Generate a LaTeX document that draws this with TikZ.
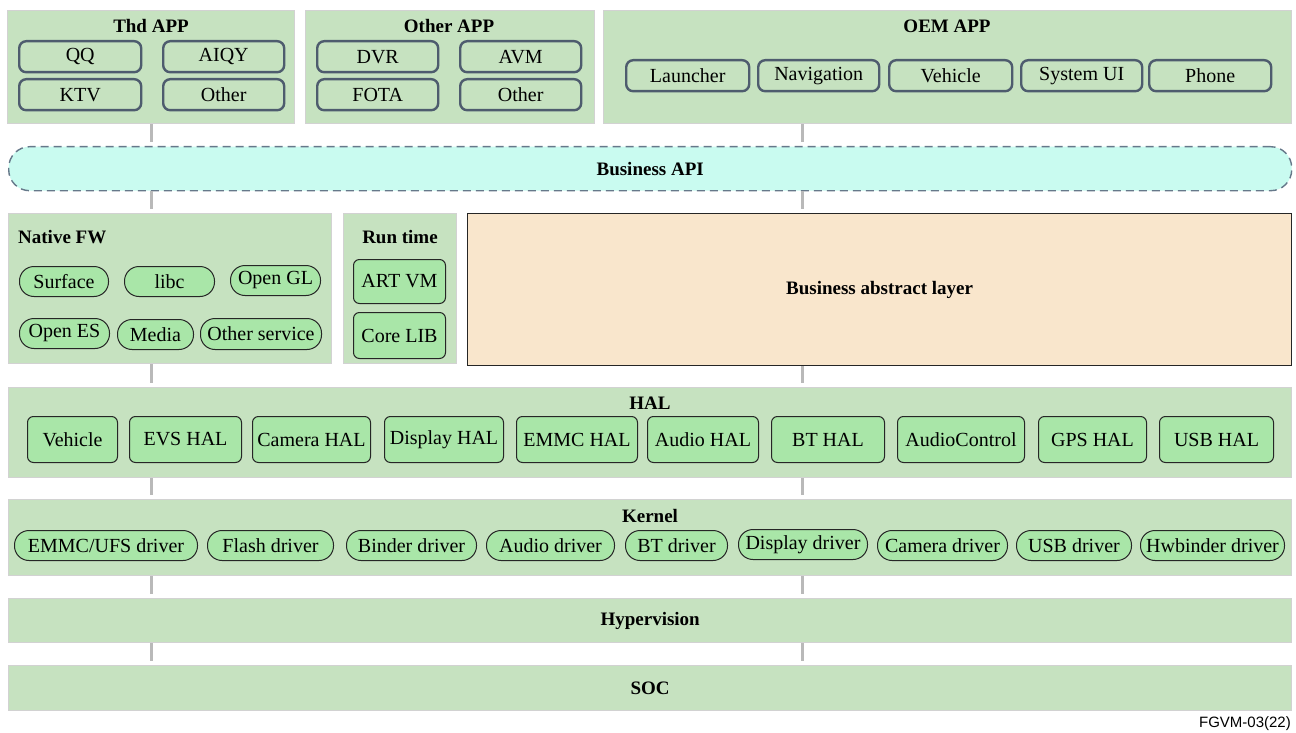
\documentclass[tikz,border=0pt]{standalone}
\usepackage{fontspec}
\setmainfont{Liberation Serif}
\newfontfamily\lsans{Liberation Sans}
\definecolor{layfill}{HTML}{C6E2C0}
\definecolor{laybd}{HTML}{D2D2D2}
\definecolor{boxfill}{HTML}{A9E6A8}
\definecolor{appbd}{HTML}{4E5C6E}
\definecolor{apifill}{HTML}{C9FBF0}
\definecolor{apibd}{HTML}{66788A}
\definecolor{peach}{HTML}{F9E6CC}
\definecolor{linkc}{HTML}{B9B9B9}
\newcommand\fsn{\fontsize{20pt}{22pt}\selectfont}
\newcommand\fsb{\fontsize{19pt}{21pt}\selectfont\bfseries}
\newcommand\Bx[7]{\pgfmathsetmacro\bw{#5-#3}\pgfmathsetmacro\bh{#6-#4}%
  \node[#1,minimum width=\bw pt,minimum height=\bh pt,anchor=north west] (#2) at (#3,#4) {#7};}
\tikzset{
  x=1pt,y=-1pt,
  layer/.style={draw=laybd,fill=layfill,line width=1.3pt,inner sep=0pt,font=\fsb},
  appbox/.style={draw=appbd,fill=layfill,line width=2.4pt,rounded corners=7pt,inner sep=0pt,font=\fsn},
  hbox/.style={draw=black!85,fill=boxfill,line width=1pt,rounded corners=6pt,inner sep=0pt,font=\fsn},
  pill/.style={draw=black!85,fill=boxfill,line width=1pt,rounded corners=14.5pt,inner sep=0pt,font=\fsn},
  apibox/.style={draw=apibd,fill=apifill,line width=1.4pt,dash pattern=on 8pt off 5pt,rounded corners=21pt,inner sep=0pt,font=\fsb},
  absbox/.style={draw=black!85,fill=peach,line width=1.2pt,inner sep=0pt,font=\fsb},
  ttl/.style={font=\fsb,inner sep=0pt},
  link/.style={draw=linkc,line width=3pt,shorten >=4pt},
}
\begin{document}
\begin{tikzpicture}
\useasboundingbox[fill=white] (0,0) rectangle (1296,733);
% top application layers
\Bx{layer}{thd}{7}{10}{294}{123}{}
\Bx{layer}{oth}{305}{10}{594}{123}{}
\Bx{layer}{oem}{603}{10}{1291}{123}{}
\node[ttl] (thdt) at (151,26) {Thd APP};
\node[ttl] (otht) at (449,26) {Other APP};
\node[ttl] (oemt) at (947,26) {OEM APP};
\Bx{appbox}{qq}{18}{40}{140}{71}{QQ}
\Bx{appbox}{aiqy}{162}{40}{283}{71}{AIQY}
\Bx{appbox}{ktv}{18}{78}{140}{109}{KTV}
\Bx{appbox}{tother}{162}{78}{283}{109}{Other}
\Bx{appbox}{dvr}{316}{40}{437}{71}{DVR}
\Bx{appbox}{avm}{459}{40}{580}{71}{AVM}
\Bx{appbox}{fota}{316}{78}{437}{109}{FOTA}
\Bx{appbox}{oother}{459}{78}{580}{109}{Other}
\Bx{appbox}{launch}{625}{59}{748}{90}{Launcher}
\Bx{appbox}{navi}{757}{59}{878}{90}{Navigation}
\Bx{appbox}{vehapp}{888}{59}{1011}{90}{Vehicle}
\Bx{appbox}{sysui}{1020}{59}{1141}{90}{System UI}
\Bx{appbox}{phone}{1148}{59}{1270}{90}{Phone}
% business API
\Bx{apibox}{api}{8}{146}{1291}{190}{Business API}
% native fw / runtime / abstract
\Bx{layer}{native}{8}{213}{331}{363}{}
\node[ttl,anchor=west] (nativet) at (18,237) {Native FW};
\Bx{pill}{surface}{19}{266}{108}{296}{Surface}
\Bx{pill}{libc}{124}{266}{214}{296}{libc}
\Bx{pill}{opengl}{230}{265}{320}{295}{Open GL}
\Bx{pill}{openes}{19}{318}{109}{348}{Open ES}
\Bx{pill}{media}{117}{319}{193}{349}{Media}
\Bx{pill}{othsvc}{200}{318}{321}{349}{Other service}
\Bx{layer}{runtime}{343}{213}{456}{363}{}
\node[ttl] (runtimet) at (400,237) {Run time};
\Bx{hbox}{artvm}{353}{259}{445}{303}{ART VM}
\Bx{hbox}{corelib}{353}{312}{445}{358}{Core LIB}
\Bx{absbox}{abs}{467}{213}{1291}{365}{Business abstract layer}
% HAL
\Bx{layer}{hal}{8}{387}{1291}{477}{}
\node[ttl] (halt) at (650,403) {HAL};
\Bx{hbox}{hveh}{27}{416}{117}{462}{Vehicle}
\Bx{hbox}{evs}{129}{416}{241}{462}{EVS HAL}
\Bx{hbox}{camhal}{252}{416}{370}{462}{Camera HAL}
\Bx{hbox}{dishal}{384}{416}{503}{462}{Display HAL}
\Bx{hbox}{emmchal}{516}{416}{637}{462}{EMMC HAL}
\Bx{hbox}{audhal}{647}{416}{758}{462}{Audio HAL}
\Bx{hbox}{bthal}{771}{416}{884}{462}{BT HAL}
\Bx{hbox}{audctl}{897}{416}{1024}{462}{AudioControl}
\Bx{hbox}{gpshal}{1038}{416}{1146}{462}{GPS HAL}
\Bx{hbox}{usbhal}{1159}{416}{1273}{462}{USB HAL}
% Kernel
\Bx{layer}{kernel}{8}{499}{1291}{575}{}
\node[ttl] (kernelt) at (650,516) {Kernel};
\Bx{pill}{emmcdrv}{14}{530}{197}{560}{EMMC/UFS driver}
\Bx{pill}{flashdrv}{207}{530}{333}{560}{Flash driver}
\Bx{pill}{binddrv}{346}{530}{476}{560}{Binder driver}
\Bx{pill}{auddrv}{486}{530}{614}{560}{Audio driver}
\Bx{pill}{btdrv}{625}{530}{727}{560}{BT driver}
\Bx{pill}{disdrv}{738}{529}{867}{559}{Display driver}
\Bx{pill}{camdrv}{877}{530}{1007}{560}{Camera driver}
\Bx{pill}{usbdrv}{1016}{530}{1131}{560}{USB driver}
\Bx{pill}{hwbdrv}{1140}{530}{1284}{560}{Hwbinder driver}
% bottom layers
\Bx{layer}{hyper}{8}{598}{1291}{642}{Hypervision}
\Bx{layer}{soc}{8}{665}{1291}{710}{SOC}
\node[font=\lsans\fontsize{15pt}{17pt}\selectfont,anchor=east,inner sep=0pt] (fig) at (1291,724) {FGVM-03(22)};
% connectors
\coordinate (cl) at (151,0);
\coordinate (cr) at (802,0);
\draw[link] (cl |- thd.south) -- (cl |- api.north);
\draw[link] (cr |- oem.south) -- (cr |- api.north);
\draw[link] (cl |- api.south) -- (cl |- native.north);
\draw[link] (cr |- api.south) -- (cr |- abs.north);
\draw[link] (cl |- native.south) -- (cl |- hal.north);
\draw[link] (cr |- abs.south) -- (cr |- hal.north);
\draw[link] (cl |- hal.south) -- (cl |- kernel.north);
\draw[link] (cr |- hal.south) -- (cr |- kernel.north);
\draw[link] (cl |- kernel.south) -- (cl |- hyper.north);
\draw[link] (cr |- kernel.south) -- (cr |- hyper.north);
\draw[link] (cl |- hyper.south) -- (cl |- soc.north);
\draw[link] (cr |- hyper.south) -- (cr |- soc.north);
\end{tikzpicture}
\end{document}
